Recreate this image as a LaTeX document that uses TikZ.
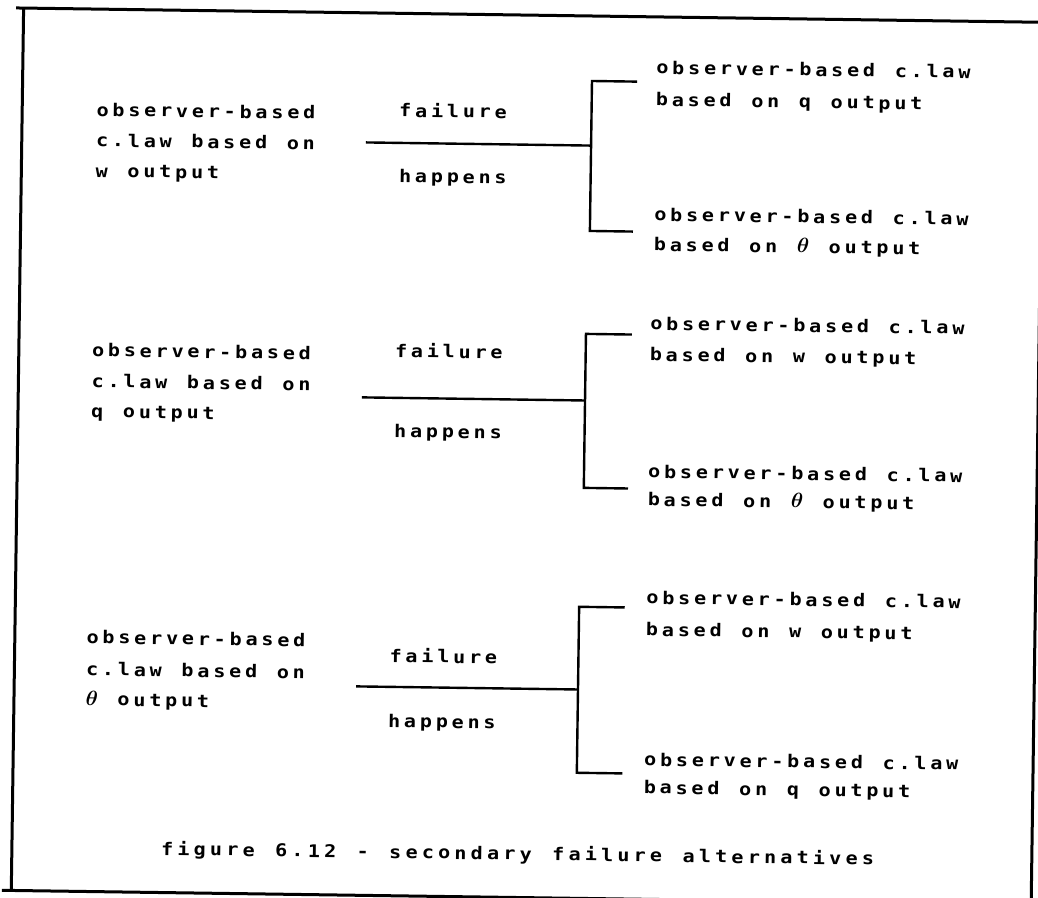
\documentclass[tikz,border=0pt]{standalone}
\usepackage{fontspec}
\usepackage{bm}
\newfontfamily\typer{DejaVu Sans Mono}[FakeStretch=1.15]
\newlength\pitch
\setlength\pitch{15.9pt}
% typewriter-style line: every character sits in a cell of fixed pitch,
% the character @ stands for a theta
\ExplSyntaxOn
\NewDocumentCommand\tw{m}
 {
  \str_map_inline:nn {#1}
   {
    \makebox[\pitch][c]
     {
      \str_if_eq:nnTF {##1} {@}
       { \fontsize{21}{21}\selectfont $\bm{\theta}$ }
       { ##1 }
     }
   }
 }
\ExplSyntaxOff
\begin{document}
\begin{tikzpicture}[x=1pt,y=-1pt,
  txt/.style={inner sep=0pt, anchor=base west,
    font=\typer\bfseries\fontsize{17.5}{20}\selectfont},
  wire/.style={line width=2.4pt},
  rule/.style={line width=3pt}]
\useasboundingbox (0,0) rectangle (1038,897);
\fill[white] (0,0) rectangle (1038,897);
\begin{scope}[rotate around={-0.8:(519,448)}, transform shape]
% outer frame
\draw[rule] (10,15) -- (1070,15);
\draw[rule] (17.5,15) -- (17.5,897.5);
\draw[rule] (8,897.5) -- (1070,897.5);
\draw[rule] (1037.5,0) -- (1037.5,910);

% ---- first alternative: w output fails
\node[txt] (g1l1) at (89.8,122) {\tw{observer-based}};
\node[txt] (g1l2) at (89.8,152.5) {\tw{c.law based on}};
\node[txt] (g1l3) at (89.8,183) {\tw{w output}};
\node[txt] (g1f) at (392.5,118.5) {\tw{failure}};
\node[txt] (g1h) at (393.3,184) {\tw{happens}};
\node[txt] (g1r1) at (649,72) {\tw{observer-based c.law}};
\node[txt] (g1r2) at (649,104) {\tw{based on q output}};
\node[txt] (g1r3) at (649,219) {\tw{observer-based c.law}};
\node[txt] (g1r4) at (649,249) {\tw{based on @ output}};
\coordinate (g1s) at (361.7,144.6);
\coordinate (g1j) at (586.9,144.6);
\coordinate (g1t) at (586.9,80);
\coordinate (g1b) at (586.9,230);
\coordinate (g1te) at (632,80);
\coordinate (g1be) at (630,230);
\draw[wire] (g1s) -- (g1j);
\draw[wire] (g1te) -- (g1t) -- (g1b) -- (g1be);

% ---- second alternative: q output fails
\node[txt] (g2l1) at (88.7,362.5) {\tw{observer-based}};
\node[txt] (g2l2) at (88.7,393.5) {\tw{c.law based on}};
\node[txt] (g2l3) at (88.7,423.5) {\tw{q output}};
\node[txt] (g2f) at (391.7,359) {\tw{failure}};
\node[txt] (g2h) at (391.9,439) {\tw{happens}};
\node[txt] (g2r1) at (646.5,328) {\tw{observer-based c.law}};
\node[txt] (g2r2) at (646.5,359) {\tw{based on w output}};
\node[txt] (g2r3) at (646.5,476) {\tw{observer-based c.law}};
\node[txt] (g2r4) at (646.5,504) {\tw{based on @ output}};
\coordinate (g2s) at (361.3,399.6);
\coordinate (g2j) at (584.4,399.6);
\coordinate (g2t) at (584.4,333);
\coordinate (g2b) at (584.4,487);
\coordinate (g2te) at (630.4,333);
\coordinate (g2be) at (628.6,487);
\draw[wire] (g2s) -- (g2j);
\draw[wire] (g2te) -- (g2t) -- (g2b) -- (g2be);

% ---- third alternative: theta output fails
\node[txt] (g3l1) at (87.2,649.5) {\tw{observer-based}};
\node[txt] (g3l2) at (87.2,681.5) {\tw{c.law based on}};
\node[txt] (g3l3) at (87.2,711.5) {\tw{@ output}};
\node[txt] (g3f) at (390.5,664) {\tw{failure}};
\node[txt] (g3h) at (389.9,729) {\tw{happens}};
\node[txt] (g3r1) at (646.5,602) {\tw{observer-based c.law}};
\node[txt] (g3r2) at (646.5,634) {\tw{based on w output}};
\node[txt] (g3r3) at (646.5,764) {\tw{observer-based c.law}};
\node[txt] (g3r4) at (646.5,792) {\tw{based on q output}};
\coordinate (g3s) at (359.4,688.7);
\coordinate (g3j) at (581.4,688.7);
\coordinate (g3t) at (581.4,606);
\coordinate (g3b) at (581.4,772);
\coordinate (g3te) at (627,606);
\coordinate (g3be) at (627,772);
\draw[wire] (g3s) -- (g3j);
\draw[wire] (g3te) -- (g3t) -- (g3b) -- (g3be);

% caption, set with a slightly wider pitch
\node[txt] (cap) at (164.5,860)
  {\setlength\pitch{16.3pt}\tw{figure 6.12 - secondary failure alternatives}};
\end{scope}
\end{tikzpicture}
\end{document}
